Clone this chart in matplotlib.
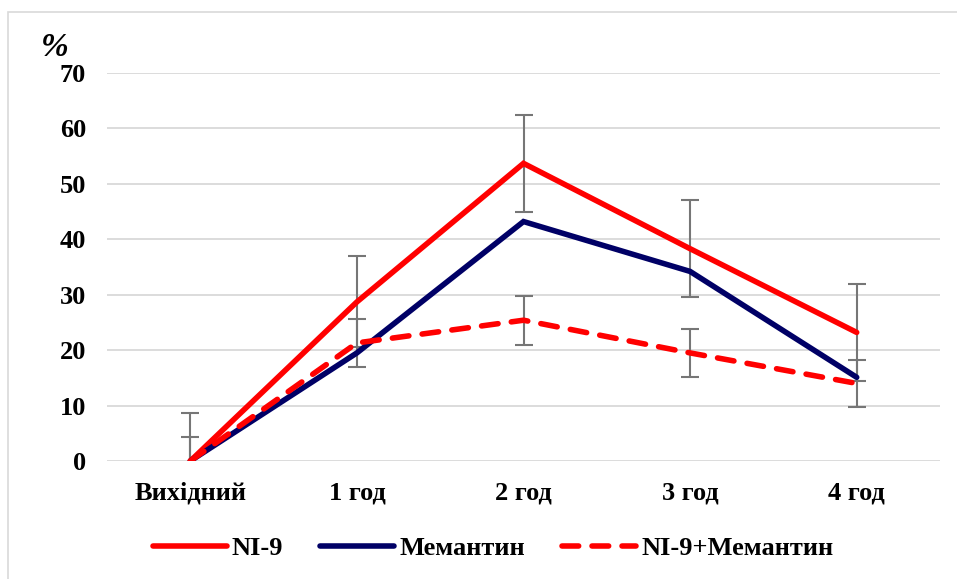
import matplotlib
matplotlib.use("Agg")
import matplotlib.pyplot as plt
from matplotlib.patches import Rectangle

plt.rcParams['font.family'] = ['Liberation Serif', 'DejaVu Serif']

categories = ["Вихідний", "1 год", "2 год", "3 год", "4 год"]
ni9 = [0, 28.7, 53.7, 38.3, 23.2]
ni9_err = [8.7, 8.2, 8.8, 8.8, 8.7]
memantine = [0, 19.5, 43.2, 34.2, 15.1]
combo = [0, 21.3, 25.4, 19.5, 14.0]
combo_err = [4.3, 4.3, 4.4, 4.3, 4.3]
y_ticks = [0, 10, 20, 30, 40, 50, 60, 70]

RED = "#FF0000"
NAVY = "#000066"
GREY_ERR = "#767676"

fig = plt.figure(figsize=(9.57, 5.79), dpi=100)
ax = fig.add_axes([107 / 957, 1 - 461 / 579, (940 - 107) / 957, (461 - 73) / 579])

x = list(range(len(categories)))

# light frame around the whole chart area
fig.patches.append(Rectangle((8 / 957, -0.05), 1.2, 1.05 - 12 / 579,
                             transform=fig.transFigure, fill=False,
                             edgecolor="#d9d9d9", linewidth=1.2, zorder=0))

# error bars (drawn under the lines)
for vals, errs in ((ni9, ni9_err), (combo, combo_err)):
    ax.errorbar(x, vals, yerr=errs, fmt="none", ecolor=GREY_ERR,
                elinewidth=1.5, capsize=6.5, capthick=1.5, zorder=2)

lw = 4.0
ax.plot(x, ni9, color=RED, lw=lw, solid_capstyle="round",
        solid_joinstyle="miter", zorder=3, label="NI-9")
ax.plot(x, memantine, color=NAVY, lw=lw, solid_capstyle="round",
        solid_joinstyle="miter", zorder=4, label="Мемантин")
ax.plot(x, combo, color=RED, lw=lw, dashes=(3.0, 2.4),
        dash_capstyle="round", zorder=5, label="NI-9+Мемантин")

ax.set_xlim(-0.5, len(categories) - 0.5)
ax.set_ylim(0, 70)
ax.set_yticks(y_ticks)
ax.set_xticks(x)
ax.set_xticklabels(categories)
ax.yaxis.grid(True, color="#d9d9d9", linewidth=1.3)
ax.set_axisbelow(True)
for s in ax.spines.values():
    s.set_visible(False)
ax.tick_params(axis="both", length=0, labelsize=19)
ax.tick_params(axis="x", pad=15)
ax.tick_params(axis="y", pad=15)
for lab in ax.get_xticklabels() + ax.get_yticklabels():
    lab.set_fontweight("bold")

fig.text(55 / 957, 1 - 48 / 579, "%", fontsize=24, fontweight="bold",
         fontstyle="italic", ha="center", va="center")

leg = ax.legend(loc="center", bbox_to_anchor=(493 / 957, 1 - 548 / 579),
                bbox_transform=fig.transFigure, ncol=3, frameon=False,
                handlelength=2.8, handletextpad=0.2, columnspacing=1.4,
                prop={"weight": "bold", "size": 19})

fig.savefig("out.png", dpi=100)
